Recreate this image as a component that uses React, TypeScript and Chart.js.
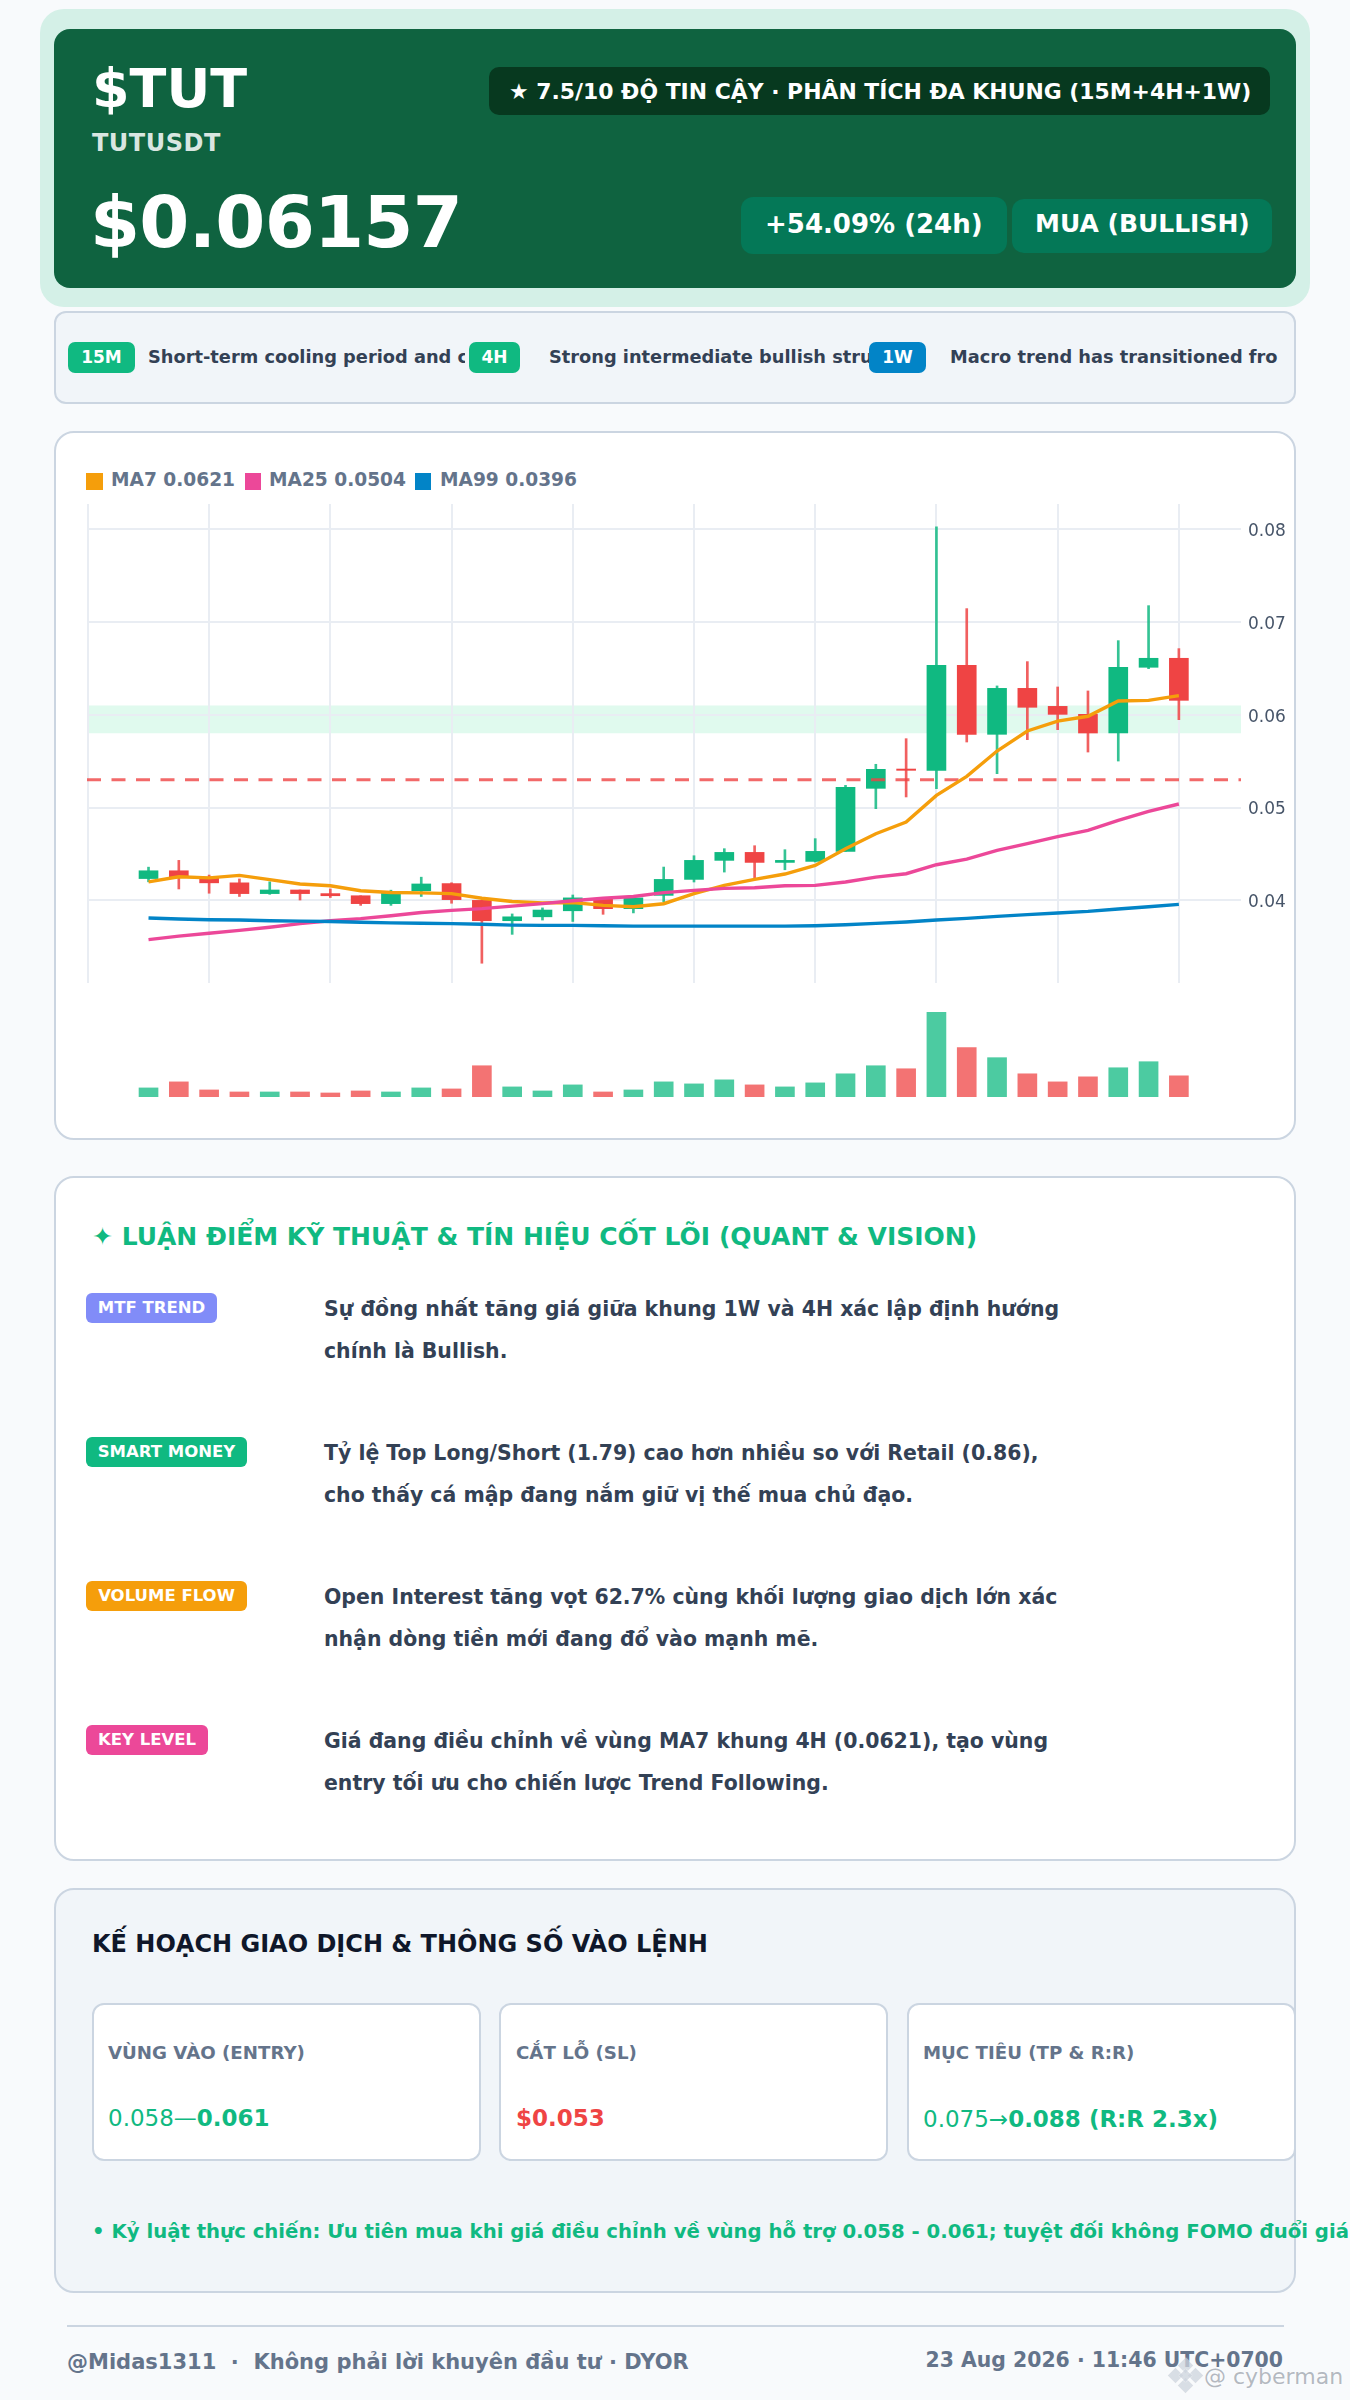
import React, { useEffect, useRef } from "react";
import { Chart, registerables } from "chart.js";

Chart.register(...registerables);

const GREEN = "#10b981";
const RED = "#ef4444";

const indexes = Array.from({ length: 35 }, (_, i) => i);
const opens = [0.04235,0.04319,0.0425,0.04189,0.04073,0.04112,0.04073,0.0405,0.03965,0.04104,0.04181,0.04,0.03781,0.03823,0.03888,0.04015,0.03911,0.04054,0.04226,0.04431,0.04517,0.04409,0.0442,0.04528,0.05207,0.05415,0.05401,0.06532,0.05789,0.06284,0.0609,0.06004,0.05803,0.06511,0.06608];
const closes = [0.04319,0.0425,0.04189,0.04073,0.04112,0.04073,0.0405,0.03965,0.04096,0.04177,0.04008,0.03781,0.03823,0.03896,0.04027,0.03911,0.04027,0.04226,0.04431,0.04517,0.04409,0.04431,0.04528,0.05218,0.05412,0.05401,0.06532,0.05789,0.06284,0.0608,0.06004,0.05803,0.06511,0.06608,0.06155];
const highs = [0.04358,0.04431,0.04273,0.04231,0.042,0.04112,0.04123,0.0405,0.0411,0.0425,0.0419,0.04,0.03854,0.03919,0.04058,0.0403,0.04035,0.04359,0.04481,0.04557,0.04589,0.04546,0.04665,0.05239,0.05466,0.05742,0.08023,0.07143,0.0631,0.06572,0.06299,0.06256,0.06798,0.07175,0.06712];
const lows = [0.042,0.04123,0.04077,0.04042,0.04065,0.04004,0.04031,0.03946,0.03946,0.04042,0.03969,0.03323,0.03634,0.03788,0.03773,0.0385,0.03865,0.03982,0.04198,0.04305,0.04233,0.0433,0.04413,0.04528,0.04988,0.05114,0.05203,0.05706,0.05365,0.05731,0.05839,0.05598,0.05501,0.06496,0.05947];
const ma7 = [0.042,0.04254,0.04242,0.04269,0.04223,0.04177,0.04158,0.04104,0.04085,0.04081,0.04073,0.04023,0.03988,0.03973,0.03977,0.03946,0.03931,0.03964,0.04072,0.04162,0.04226,0.04284,0.04377,0.04557,0.04718,0.04844,0.05131,0.05336,0.05609,0.05825,0.05932,0.05983,0.06148,0.06155,0.06205];
const ma25 = [0.03577,0.03615,0.03646,0.03677,0.03711,0.0375,0.03781,0.03804,0.03835,0.03869,0.03892,0.03911,0.03938,0.03965,0.03996,0.04023,0.04042,0.04083,0.04108,0.04129,0.04136,0.04158,0.04162,0.04198,0.04251,0.04287,0.04384,0.04445,0.04539,0.04611,0.04686,0.04754,0.04862,0.04959,0.05038];
const ma99 = [0.03811,0.038,0.03792,0.03788,0.03781,0.03777,0.03773,0.03765,0.03758,0.03754,0.0375,0.03743,0.03734,0.03731,0.03731,0.03727,0.03723,0.03723,0.03723,0.03723,0.03723,0.03723,0.03727,0.03738,0.03752,0.03767,0.03788,0.03806,0.03828,0.03846,0.03864,0.03881,0.03907,0.03932,0.03957];
const volumes = [9,15,7,5,5,5,4,6,5,9,8,31,10,6,12,5,7,15,13,17,12,10,14,23,31,28,84,49,39,23,15,20,29,35,21];

const priceTicks = [0.04, 0.05, 0.06, 0.07, 0.08];
const timeTicks = [-2, 2, 6, 10, 14, 18, 22, 26, 30, 34];
const entryZone = [0.058, 0.061];
const stopLevel = 0.053;
const xMin = -2.03;
const xMax = 36.05;
const yMin = 0.0311;
const yMax = 0.0827;
const volumeMax = 84.3;

const legendItems = [
  { label: "MA7 0.0621", color: "#f59e0b", sw: 86, w: 17, x: 111 },
  { label: "MA25 0.0504", color: "#ec4899", sw: 245, w: 16, x: 269 },
  { label: "MA99 0.0396", color: "#0284c7", sw: 415, w: 16, x: 440 },
];

const frames = [
  { tag: "15M", color: GREEN, x: 68, w: 67, textX: 148, textW: 317, text: "Short-term cooling period and consolidation" },
  { tag: "4H", color: GREEN, x: 469, w: 51, textX: 549, textW: 320, text: "Strong intermediate bullish structure holding" },
  { tag: "1W", color: "#0284c7", x: 869, w: 57, textX: 950, textW: 328, text: "Macro trend has transitioned from bearish" },
];

const thesis = [
  { tag: "MTF TREND", color: "#818cf8", w: 131, y: 1293, lines: ["Sự đồng nhất tăng giá giữa khung 1W và 4H xác lập định hướng", "chính là Bullish."] },
  { tag: "SMART MONEY", color: GREEN, w: 161, y: 1437, lines: ["Tỷ lệ Top Long/Short (1.79) cao hơn nhiều so với Retail (0.86),", "cho thấy cá mập đang nắm giữ vị thế mua chủ đạo."] },
  { tag: "VOLUME FLOW", color: "#f59e0b", w: 161, y: 1581, lines: ["Open Interest tăng vọt 62.7% cùng khối lượng giao dịch lớn xác", "nhận dòng tiền mới đang đổ vào mạnh mẽ."] },
  { tag: "KEY LEVEL", color: "#ec4899", w: 122, y: 1725, lines: ["Giá đang điều chỉnh về vùng MA7 khung 4H (0.0621), tạo vùng", "entry tối ưu cho chiến lược Trend Following."] },
];

const logoCells = [
  { dx: 0, dy: -10, s: 7 },
  { dx: -10, dy: 0, s: 7 },
  { dx: 10, dy: 0, s: 7 },
  { dx: 0, dy: 10, s: 7 },
  { dx: 0, dy: 0, s: 6 },
];

const FONT = '"DejaVu Sans", sans-serif';

function T(p: { x: number; cy: number; size: number; color: string; bold?: boolean; right?: boolean; ls?: number; children: React.ReactNode; clipW?: number; shadow?: string }) {
  const s: React.CSSProperties = {
    position: "absolute",
    top: p.cy - 30,
    height: 60,
    lineHeight: "60px",
    fontSize: p.size,
    color: p.color,
    fontWeight: p.bold === false ? 400 : 700,
    whiteSpace: "pre",
    letterSpacing: p.ls,
    textShadow: p.shadow,
  };
  if (p.right) s.right = 1350 - p.x;
  else s.left = p.x;
  if (p.clipW) {
    s.width = p.clipW;
    s.overflow = "hidden";
  }
  return <div style={s}>{p.children}</div>;
}

function Box(p: { x: number; y: number; w: number; h: number; bg: string; r: number; border?: string }) {
  return (
    <div
      style={{
        position: "absolute",
        left: p.x,
        top: p.y,
        width: p.w,
        height: p.h,
        background: p.bg,
        borderRadius: p.r,
        border: p.border,
        boxSizing: "border-box",
      }}
    />
  );
}

export default function App() {
  const priceRef = useRef<HTMLCanvasElement>(null);
  const volRef = useRef<HTMLCanvasElement>(null);

  useEffect(() => {
    document.body.style.margin = "0";
    document.body.style.background = "#f8fafc";
    const isUp = (i: number) => closes[i] >= opens[i];
    const xAxis = {
      type: "linear" as const,
      min: xMin,
      max: xMax,
      offset: false,
      afterBuildTicks: (axis: any) => {
        axis.ticks = timeTicks.map((value) => ({ value }));
      },
      ticks: { display: false },
      border: { display: false },
      grid: { color: "#e9edf3", lineWidth: 2, drawTicks: false, offset: false },
      afterFit: (axis: any) => {
        axis.height = 0;
      },
    };
    const maLine = (label: string, values: number[], color: string) => ({
      type: "line" as const,
      label,
      data: indexes.map((i) => ({ x: i, y: values[i] })),
      borderColor: color,
      borderWidth: 3.4,
      pointRadius: 0,
      tension: 0,
      order: 1,
    });
    const price = new Chart(priceRef.current!, {
      type: "bar",
      data: {
        datasets: [
          {
            type: "line" as const,
            label: "Entry zone",
            data: [
              { x: xMin, y: entryZone[1] },
              { x: xMax, y: entryZone[1] },
            ],
            borderWidth: 0,
            pointRadius: 0,
            backgroundColor: "#e0faee",
            fill: { value: entryZone[0] },
            order: 5,
          },
          {
            label: "Wick",
            data: indexes.map((i) => ({ x: i, y: [lows[i], highs[i]] })),
            backgroundColor: indexes.map((i) => (isUp(i) ? "rgba(16,185,129,0.85)" : "rgba(239,68,68,0.85)")),
            barThickness: 2,
            grouped: false,
            order: 4,
          },
          {
            label: "Body",
            data: indexes.map((i) => ({ x: i, y: [opens[i], closes[i]] })),
            backgroundColor: indexes.map((i) => (isUp(i) ? GREEN : RED)),
            barThickness: 19,
            minBarLength: 1,
            grouped: false,
            order: 3,
          },
          {
            type: "line" as const,
            label: "Stop",
            data: [
              { x: xMin, y: stopLevel },
              { x: xMax, y: stopLevel },
            ],
            borderColor: "rgba(239,68,68,0.8)",
            borderWidth: 3,
            borderDash: [14, 10.5],
            pointRadius: 0,
            order: 2,
          },
          maLine("MA99", ma99, "#0284c7"),
          maLine("MA25", ma25, "#ec4899"),
          maLine("MA7", ma7, "#f59e0b"),
        ],
      } as any,
      options: {
        animation: false,
        responsive: false,
        devicePixelRatio: 1,
        layout: { padding: 0, autoPadding: false },
        plugins: { legend: { display: false }, tooltip: { enabled: false }, filler: { drawTime: "beforeDraw" } },
        scales: {
          x: xAxis,
          y: {
            position: "right",
            min: yMin,
            max: yMax,
            ticks: {
              includeBounds: false,
              stepSize: 0.01,
              padding: 7,
              labelOffset: 2.5,
              color: "#475569",
              font: { family: FONT, size: 17 },
              callback: (v: any) => (priceTicks.includes(Math.round(Number(v) * 100) / 100) ? Number(v).toFixed(2) : ""),
            },
            border: { display: false },
            grid: { color: "#e9edf3", lineWidth: 2, drawTicks: false },
            afterFit: (axis: any) => {
              axis.width = 62;
              axis.paddingTop = 0;
              axis.paddingBottom = 0;
            },
          },
        },
      } as any,
    });
    const vol = new Chart(volRef.current!, {
      type: "bar",
      data: {
        datasets: [
          {
            label: "Volume",
            data: indexes.map((i) => ({ x: i, y: volumes[i] })),
            backgroundColor: indexes.map((i) => (isUp(i) ? "rgba(16,185,129,0.75)" : "rgba(239,68,68,0.75)")),
            barThickness: 19,
          },
        ],
      } as any,
      options: {
        animation: false,
        responsive: false,
        devicePixelRatio: 1,
        layout: { padding: 0, autoPadding: false },
        plugins: { legend: { display: false }, tooltip: { enabled: false } },
        scales: {
          x: { ...xAxis, grid: { display: false } },
          y: {
            display: false,
            min: 0,
            max: volumeMax,
          },
        },
      } as any,
    });
    return () => {
      price.destroy();
      vol.destroy();
    };
  }, []);

  return (
    <div style={{ position: "relative", width: 1350, height: 2400, overflow: "hidden", background: "#f8fafc", fontFamily: FONT }}>
      <Box x={40} y={9} w={1270} h={298} bg="#d4f0e7" r={24} />
      <Box x={54} y={29} w={1242} h={259} bg="#0f6340" r={16} />
      <T x={92} cy={89} size={54} color="#fff">$TUT</T>
      <T x={92} cy={143} size={24} color="rgba(255,255,255,0.85)" ls={0.5}>TUTUSDT</T>
      <T x={90} cy={222} size={72} color="#fff" ls={-0.75}>$0.06157</T>
      <Box x={489} y={67} w={781} h={48} bg="#07391f" r={10} />
      <T x={509} cy={92} size={21.9} color="#fff">★ 7.5/10 ĐỘ TIN CẬY · PHÂN TÍCH ĐA KHUNG (15M+4H+1W)</T>
      <Box x={741} y={197} w={266} h={57} bg="#047857" r={12} />
      <T x={765} cy={224} size={26} color="#fff">+54.09% (24h)</T>
      <Box x={1012} y={199} w={260} h={54} bg="#047857" r={12} />
      <T x={1035} cy={224} size={25} color="#fff">MUA (BULLISH)</T>

      <Box x={54} y={311} w={1242} h={93} bg="#f1f5f9" r={12} border="2px solid #cbd5e1" />
      {frames.map((f) => (
        <React.Fragment key={f.tag}>
          <T x={f.textX} cy={357} size={17.8} color="#334155" clipW={f.textW}>{f.text}</T>
          <Box x={f.x} y={342} w={f.w} h={31} bg={f.color} r={7} />
          <div style={{ position: "absolute", left: f.x, width: f.w, top: 342, lineHeight: "31px", textAlign: "center", color: "#fff", fontWeight: 700, fontSize: 17 }}>{f.tag}</div>
        </React.Fragment>
      ))}

      <Box x={54} y={431} w={1242} h={709} bg="#fff" r={20} border="2px solid #cbd5e1" />
      {legendItems.map((l) => (
        <React.Fragment key={l.label}>
          <Box x={l.sw} y={473} w={l.w} h={17} bg={l.color} r={0} />
          <T x={l.x} cy={480} size={18.6} color="#64748b">{l.label}</T>
        </React.Fragment>
      ))}
      <canvas ref={priceRef} width={1216} height={479} style={{ position: "absolute", left: 87, top: 504, width: 1216, height: 479 }} />
      <canvas ref={volRef} width={1154} height={85} style={{ position: "absolute", left: 87, top: 1012, width: 1154, height: 85 }} />

      <Box x={54} y={1176} w={1242} h={685} bg="#fff" r={20} border="2px solid #cbd5e1" />
      <T x={92} cy={1237} size={25} color={GREEN}>✦ LUẬN ĐIỂM KỸ THUẬT & TÍN HIỆU CỐT LÕI (QUANT & VISION)</T>
      {thesis.map((t) => (
        <React.Fragment key={t.tag}>
          <Box x={86} y={t.y} w={t.w} h={30} bg={t.color} r={6} />
          <div style={{ position: "absolute", left: 86, width: t.w, top: t.y, lineHeight: "30px", textAlign: "center", color: "#fff", fontWeight: 700, fontSize: 16.5 }}>{t.tag}</div>
          <T x={324} cy={t.y + 16} size={20.45} color="#334155">{t.lines[0]}</T>
          <T x={324} cy={t.y + 58} size={20.45} color="#334155">{t.lines[1]}</T>
        </React.Fragment>
      ))}

      <Box x={54} y={1888} w={1242} h={405} bg="#f1f5f9" r={20} border="2px solid #cbd5e1" />
      <T x={92} cy={1944} size={24} color="#0f172a">KẾ HOẠCH GIAO DỊCH & THÔNG SỐ VÀO LỆNH</T>
      <Box x={92} y={2003} w={389} h={158} bg="#fff" r={12} border="2px solid #cbd5e1" />
      <Box x={499} y={2003} w={389} h={158} bg="#fff" r={12} border="2px solid #cbd5e1" />
      <Box x={907} y={2003} w={389} h={158} bg="#fff" r={12} border="2px solid #cbd5e1" />
      <T x={108} cy={2053} size={18.2} color="#64748b">VÙNG VÀO (ENTRY)</T>
      <T x={516} cy={2053} size={18.2} color="#64748b">CẮT LỖ (SL)</T>
      <T x={923} cy={2053} size={18.2} color="#64748b">MỤC TIÊU (TP & R:R)</T>
      <T x={108} cy={2118} size={23} color={GREEN} bold={false}>0.058—<b>0.061</b></T>
      <T x={516} cy={2118} size={23} color={RED}>$0.053</T>
      <T x={923} cy={2119} size={23} color={GREEN} bold={false}>0.075→<b>0.088 (R:R 2.3x)</b></T>
      <T x={92} cy={2232} size={19.7} color={GREEN}>• Kỷ luật thực chiến: Ưu tiên mua khi giá điều chỉnh về vùng hỗ trợ 0.058 - 0.061; tuyệt đối không FOMO đuổi giá</T>

      <Box x={67} y={2325} w={1217} h={2} bg="#cbd5e1" r={0} />
      <T x={67} cy={2362} size={21} color="#64748b">@Midas1311  ·  Không phải lời khuyên đầu tư · DYOR</T>
      <T x={1283} cy={2360} size={20.4} color="#64748b" right>23 Aug 2026 · 11:46 UTC+0700</T>
      {logoCells.map((c, i) => (
        <div key={i} style={{ position: "absolute", left: 1186.5 + c.dx - c.s, top: 2376.5 + c.dy - c.s, width: c.s * 2 - 3, height: c.s * 2 - 3, background: "rgba(205,212,222,0.75)", boxShadow: "0 0 2px #fff", transform: "rotate(45deg)" }} />
      ))}
      <T x={1204} cy={2377} size={22} color="rgba(130,138,150,0.6)" bold={false} shadow="0 0 2px #fff">@ cyberman</T>
    </div>
  );
}
